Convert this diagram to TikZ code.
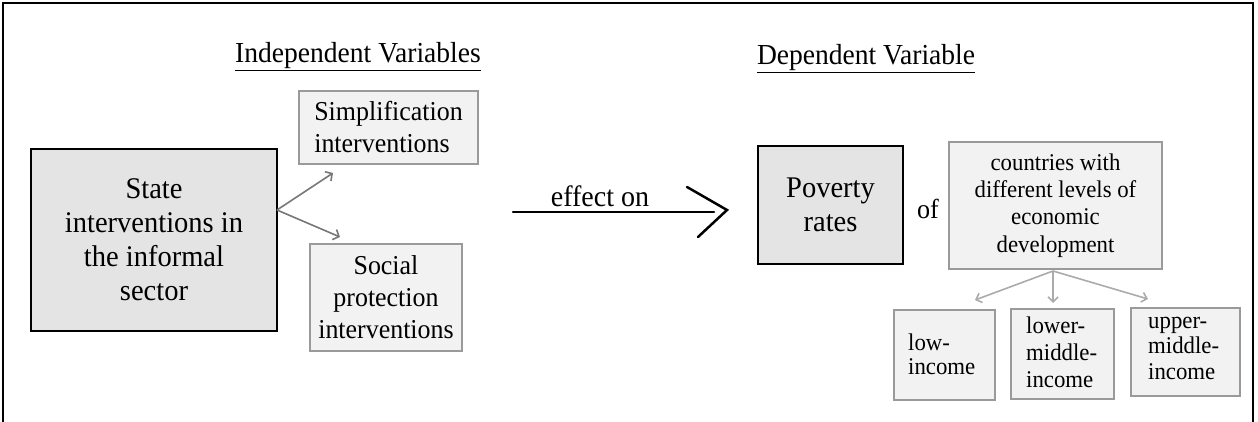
\documentclass[tikz,border=0pt]{standalone}
\usepackage{fontspec}
\setmainfont[FakeStretch=0.95]{Liberation Serif}
\usetikzlibrary{arrows.meta}
\definecolor{darkfill}{HTML}{E4E4E4}
\definecolor{lightfill}{HTML}{F2F2F2}
\definecolor{lightedge}{HTML}{9A9A9A}
\definecolor{forkgray}{HTML}{777777}
\definecolor{subgray}{HTML}{ABABAB}
\tikzset{
  mainbox/.style={draw=black, line width=2.2pt, fill=darkfill, inner sep=0pt, align=center,
    font=\fontsize{30}{34}\selectfont},
  subbox/.style={draw=lightedge, line width=1.8pt, fill=lightfill, inner sep=0pt,
    font=\fontsize{27.3}{32}\selectfont},
  incbox/.style={draw=lightedge, line width=1.8pt, fill=lightfill, inner sep=0pt},
  heading/.style={font=\fontsize{29}{32}\selectfont, inner sep=0pt},
  forkarrow/.style={draw=forkgray, line width=1.6pt, -{Straight Barb[length=5pt,width=11pt]}},
  subarrow/.style={draw=subgray, line width=1.6pt, -{Straight Barb[length=5pt,width=10pt]}},
  bigline/.style={draw=black, line width=2.5pt, line cap=round},
  inctext/.style={align=left, inner sep=0pt, anchor=west},
}
\begin{document}
\begin{tikzpicture}[x=1pt,y=-1pt]
\useasboundingbox (0,0) rectangle (1258,422);
% frame
\draw[line width=2pt] (3,422) -- (3,3.5) -- (1253,3.5) -- (1253,422);

% headings
\node[heading] (indep) at (358,57) {\underline{Independent Variables}};
\node[heading] (dep) at (866,59) {\underline{Dependent Variable}};

% left side
\node[mainbox, minimum width=246pt, minimum height=182pt] (state) at (154,240)
  {State\\interventions in\\the informal\\sector};
\node[subbox, minimum width=179pt, minimum height=73pt, align=left] (simp) at (388.5,127.5)
  {Simplification\\interventions};
\node[subbox, minimum width=152pt, minimum height=107pt, align=center] (social) at (386,297.5)
  {Social\\protection\\interventions};

\coordinate (fork) at (277,210);
\coordinate (simtip) at (333,173);
\coordinate (soctip) at (340,237);
\draw[forkarrow] (fork) -- (simtip);
\draw[forkarrow] (fork) -- (soctip);

% effect on arrow
\coordinate (effL) at (513,212);
\coordinate (effR) at (714,212);
\coordinate (chevA) at (687,187);
\coordinate (chevT) at (727,210);
\coordinate (chevB) at (698,237);
\draw[bigline] (effL) -- (effR);
\draw[bigline, line join=miter] (chevA) -- (chevT) -- (chevB);
\node[font=\fontsize{29.5}{32}\selectfont, inner sep=0pt] (effect) at (600,196) {effect on};

% right side
\node[mainbox, minimum width=145pt, minimum height=118pt] (pov) at (830.5,205)
  {Poverty\\rates};
\node[font=\fontsize{27.5}{30}\selectfont, inner sep=0pt] (of) at (928,209) {of};
\node[subbox, minimum width=213pt, minimum height=127pt, align=center,
  font=\fontsize{24}{27.3}\selectfont] (ctry) at (1055.5,205.5)
  {countries with\\different levels of\\economic\\development};

\node[incbox, minimum width=101pt, minimum height=90pt, anchor=north west] (low) at (893,309) {};
\node[incbox, minimum width=103pt, minimum height=90pt, anchor=north west] (lmid) at (1010,308) {};
\node[incbox, minimum width=109pt, minimum height=88pt, anchor=north west] (umid) at (1130,307) {};
\node[inctext, font=\fontsize{24}{24}\selectfont] (lowtxt) at (908,354) {low-\\income};
\node[inctext, font=\fontsize{24}{27}\selectfont] (lmidtxt) at (1026,352) {lower-\\middle-\\income};
\node[inctext, font=\fontsize{24}{25.5}\selectfont] (umidtxt) at (1148,348) {upper-\\middle-\\income};

\coordinate (split) at (1053,271);
\coordinate (lowtip) at (975,300);
\coordinate (lmidtip) at (1053,303);
\coordinate (umidtip) at (1148,299);
\draw[subarrow] (split) -- (lowtip);
\draw[subarrow] (split) -- (lmidtip);
\draw[subarrow] (split) -- (umidtip);
\end{tikzpicture}
\end{document}
